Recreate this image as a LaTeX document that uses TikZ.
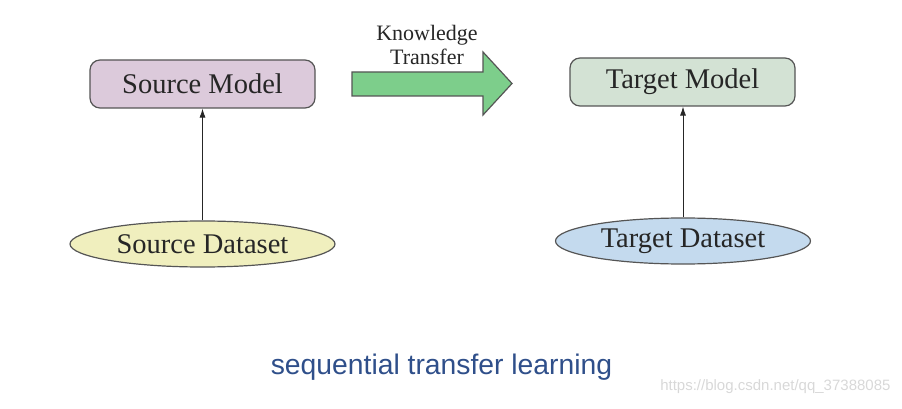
\documentclass[tikz,border=0pt]{standalone}
\usepackage{fontspec}
\setmainfont{Liberation Serif}
\newfontfamily\capfont{Liberation Sans}
\usetikzlibrary{shapes.geometric,arrows.meta}
\definecolor{srcfill}{HTML}{DCCADB}
\definecolor{tgtfill}{HTML}{D3E2D4}
\definecolor{dsfill}{HTML}{F0EFBE}
\definecolor{dtfill}{HTML}{C4DAEE}
\definecolor{arrfill}{HTML}{7DCE8B}
\definecolor{edge}{HTML}{555555}
\definecolor{capblue}{HTML}{2F4F8A}
\definecolor{wm}{HTML}{D8D8D8}
\tikzset{
  modelbox/.style={draw=edge, line width=1.2pt, rounded corners=10pt, minimum width=225pt, minimum height=48pt, font=\fontsize{28.5}{31}\selectfont, inner sep=0pt, text=black!85},
  dataell/.style={ellipse, draw=edge, line width=1.2pt, minimum height=46pt, font=\fontsize{28.5}{31}\selectfont, inner sep=0pt, text=black!85},
  uparrow/.style={-{Latex[length=9pt,width=6pt]}, line width=0.8pt, black!85},
}
\begin{document}
\begin{tikzpicture}[x=1pt,y=-1pt]
\useasboundingbox (0,0) rectangle (902,409);
\node[modelbox, fill=srcfill] (sm) at (202.5,84) {Source Model};
\node[modelbox, fill=tgtfill] (tm) at (682.5,82) {Target Model};
\node[dataell, fill=dsfill, minimum width=265pt] (sd) at (202.5,244) {Source Dataset};
\node[dataell, fill=dtfill, minimum width=255pt] (td) at (683,241) {Target Dataset};
\draw[uparrow] (sd.north) -- (sd.north |- sm.south);
\draw[uparrow] (td.north) -- (td.north |- tm.south);
\draw[draw=edge, line width=1.2pt, fill=arrfill, line join=miter]
  (352,72) -- (483,72) -- (483,52) -- (512,83.5) -- (483,115) -- (483,96) -- (352,96) -- cycle;
\node[font=\fontsize{22}{24}\selectfont, align=center, text=black!85] (kt) at (427,45) {Knowledge\\Transfer};
\node[font=\capfont\fontsize{28.3}{30}\selectfont, text=capblue] (cap) at (441.5,367) {sequential transfer learning};
\node[font=\capfont\fontsize{15}{17}\selectfont, text=wm, anchor=east] (wmk) at (894,387) {https://blog.csdn.net/qq\_37388085};
\end{tikzpicture}
\end{document}
